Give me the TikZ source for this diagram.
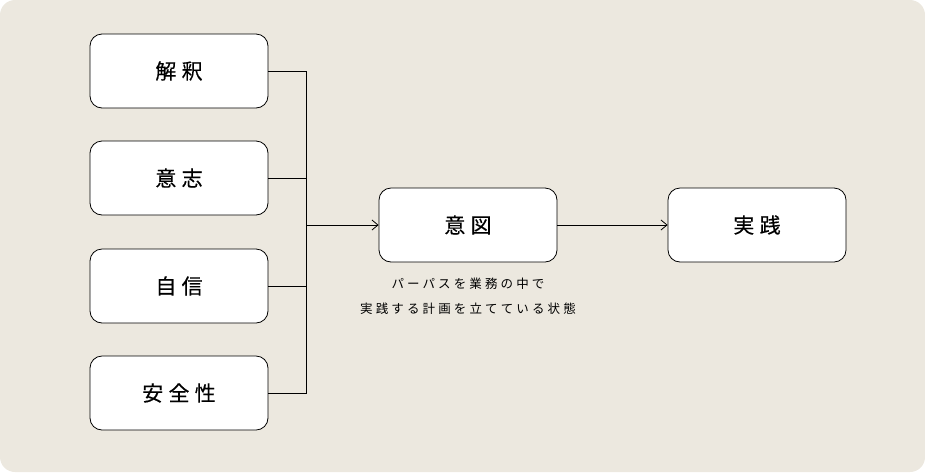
\documentclass[tikz,border=0pt]{standalone}
\usepackage{fontspec}
\setmainfont{Noto Sans CJK JP}
\newfontfamily\boxfont[LetterSpace=25,FakeBold=0.4]{Noto Sans CJK JP}
\newfontfamily\capfont[LetterSpace=25]{Noto Sans CJK JP}
\usetikzlibrary{arrows.meta}
\definecolor{bg}{HTML}{ECE8DF}
\tikzset{box/.style={draw=black,fill=white,rounded corners=12pt,minimum width=178pt,minimum height=74pt,line width=0.8pt,font=\boxfont\fontsize{21}{22}\selectfont},
ln/.style={line width=0.8pt},
arr/.style={ln,-{Straight Barb[length=6pt,width=10pt]}}}
\begin{document}
\begin{tikzpicture}[x=1pt,y=-1pt]
\fill[bg,rounded corners=15pt] (0,0) rectangle (925,472);
\useasboundingbox (0,0) rectangle (925,472);
\node[box] (a) at (179,71) {解釈};
\node[box] (b) at (179,178) {意志};
\node[box] (c) at (179,286) {自信};
\node[box] (d) at (179,393) {安全性};
\node[box] (m) at (468,225) {意図};
\node[box] (r) at (757,225) {実践};
\coordinate (j) at (306,225);
\draw[ln] (a.east) -| (306,393) -- (d.east);
\draw[ln] (b.east) -- (306,178);
\draw[ln] (c.east) -- (306,286);
\draw[arr] (j) -- (m.west);
\draw[arr] (m.east) -- (r.west);
\node[font=\capfont\fontsize{12.5}{25}\selectfont,align=center,anchor=north] (cap) at (468,274) {パーパスを業務の中で\\実践する計画を立てている状態};
\end{tikzpicture}
\end{document}
